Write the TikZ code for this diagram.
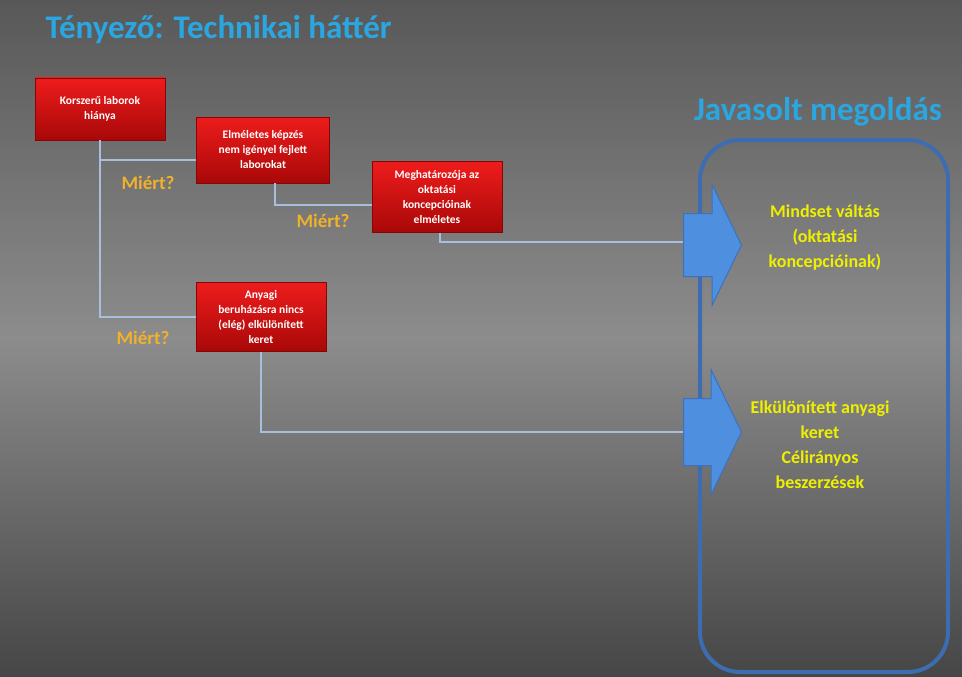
\documentclass[tikz,border=0pt]{standalone}
\usepackage{fontspec}
\setmainfont{Carlito}
\usetikzlibrary{shapes.arrows,calc}
\definecolor{bgtop}{HTML}{585858}
\definecolor{bgmid}{HTML}{8C8C8C}
\definecolor{bgbot}{HTML}{464646}
\definecolor{titlecyan}{HTML}{2AA6E0}
\definecolor{redtop}{HTML}{EE1C1C}
\definecolor{redbot}{HTML}{A80808}
\definecolor{connc}{HTML}{A8BEDC}
\definecolor{whyc}{HTML}{F2B12A}
\definecolor{solyellow}{HTML}{EEF000}
\definecolor{frameblue}{HTML}{3D6CB0}
\definecolor{arrowfill}{HTML}{4F8FDF}
\definecolor{arrowdraw}{HTML}{3B72C0}
\tikzset{
  causebox/.style={rectangle, top color=redtop, bottom color=redbot, draw=redbot!80!black, line width=0.4pt,
    text=white, font=\fontsize{11.5}{15}\selectfont\bfseries, align=center, inner sep=2pt},
  conn/.style={draw=connc, line width=2.2pt},
  whylabel/.style={text=whyc, font=\fontsize{19}{22}\selectfont\bfseries},
  soltext/.style={text=solyellow, font=\fontsize{18}{25}\selectfont\bfseries, align=center},
  heading/.style={text=titlecyan, font=\fontsize{33}{36}\selectfont\bfseries},
  bigarrow/.style={single arrow, fill=arrowfill, draw=arrowdraw, line width=1pt,
    minimum height=58pt, single arrow head extend=29pt,
    single arrow tip angle=128, inner sep=0pt, anchor=west}
}
\begin{document}
\begin{tikzpicture}[x=1pt,y=-1pt]
\shade[top color=bgtop, bottom color=bgbot, middle color=bgmid] (0,0) rectangle (962,677);
\useasboundingbox (0,0) rectangle (962,677);

\node[heading, anchor=west] (title) at (42,30) {Tényező: Technikai háttér};
\node[heading] (soltitle) at (818,112) {Javasolt megoldás};

\node[draw=frameblue, line width=4pt, rounded corners=40pt, minimum width=248pt, minimum height=532pt] (frame) at (824,406) {};

\node[causebox, minimum width=130pt, minimum height=62pt] (b1) at (100,109) {Korszerű laborok\\hiánya};
\node[causebox, minimum width=133pt, minimum height=66pt] (b2) at (263,150) {Elméletes képzés\\nem igényel fejlett\\laborokat};
\node[causebox, minimum width=130pt, minimum height=71pt] (b3) at (437,197) {Meghatározója az\\oktatási\\koncepcióinak\\elméletes};
\node[causebox, minimum width=130pt, minimum height=69pt] (b4) at (261,317) {Anyagi\\beruházásra nincs\\(elég) elkülönített\\keret};

\node[bigarrow] (a1) at (683,245) {\rule{0pt}{62pt}};
\node[bigarrow] (a2) at (683,432) {\rule{0pt}{66pt}};

\draw[conn] (b1.south) |- (b4.west);
\draw[conn] (b1.south |- 0,160) -- ([yshift=-10pt]b2.west);
\draw[conn] ([xshift=12pt]b2.south) |- ([yshift=-8pt]b3.west);
\draw[conn] ([xshift=3pt]b3.south) |- ([yshift=3pt]a1.west);
\draw[conn] (b4.south) |- (a2.west);

\node[whylabel] (w1) at (148,183) {Miért?};
\node[whylabel] (w2) at (323,221) {Miért?};
\node[whylabel] (w3) at (143,338) {Miért?};

\node[soltext] (s1) at (825,238) {Mindset váltás\\(oktatási\\koncepcióinak)};
\node[soltext] (s2) at (820,445) {Elkülönített anyagi\\keret\\Célirányos\\beszerzések};
\end{tikzpicture}
\end{document}
